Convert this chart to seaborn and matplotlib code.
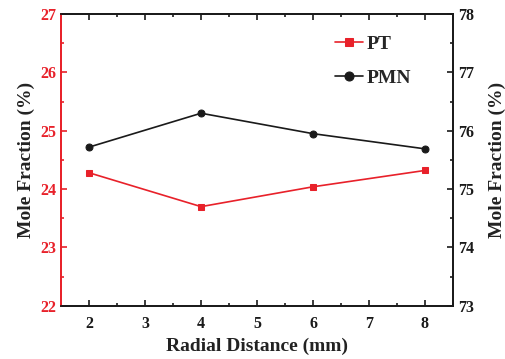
import matplotlib
matplotlib.use("Agg")
import matplotlib.pyplot as plt
import seaborn as sns
import pandas as pd
from matplotlib.ticker import MultipleLocator

distance = [2, 4, 6, 8]
pt_values = [24.28, 23.70, 24.04, 24.32]
pmn_values = [75.72, 76.30, 75.95, 75.69]

sns.set_theme(style="ticks")
plt.rcParams['font.family'] = ['Liberation Serif', 'DejaVu Serif']
plt.rcParams['font.weight'] = 'bold'

red = '#e8212a'
black = '#1a1a1a'

df = pd.DataFrame({'d': distance, 'PT': pt_values, 'PMN': pmn_values})

fig = plt.figure(figsize=(5.05, 3.59), dpi=100)
ax = fig.add_axes([0.121, 0.148, 0.776, 0.813])
ax2 = ax.twinx()

sns.lineplot(data=df, x='d', y='PT', ax=ax, color=red, marker='s', markersize=4.8,
             markeredgecolor=red, linewidth=1.2, label='PT', legend=False)
sns.lineplot(data=df, x='d', y='PMN', ax=ax2, color=black, marker='o', markersize=5,
             markeredgecolor=black, linewidth=1.2, label='PMN', legend=False)

ax.set_xlim(1.5, 8.5)
ax.set_ylim(22, 27)
ax2.set_ylim(73, 78)
ax.xaxis.set_major_locator(MultipleLocator(1))
ax.xaxis.set_minor_locator(MultipleLocator(0.5))
ax.yaxis.set_major_locator(MultipleLocator(1))
ax.yaxis.set_minor_locator(MultipleLocator(0.5))
ax2.yaxis.set_major_locator(MultipleLocator(1))
ax2.yaxis.set_minor_locator(MultipleLocator(0.5))

ax.tick_params(axis='x', which='both', direction='in', top=True, colors=black, labelsize=11.5, width=1.2, pad=7.5)
ax.tick_params(axis='x', which='major', length=4)
ax.tick_params(axis='x', which='minor', length=2.5)
ax.tick_params(axis='y', which='both', direction='in', colors=red, labelsize=11.5, width=1.2)
ax.tick_params(axis='y', which='major', length=4)
ax.tick_params(axis='y', which='minor', length=2.5)
ax2.tick_params(axis='y', which='both', direction='in', colors=black, labelsize=11.5, width=1.2)
ax2.tick_params(axis='y', which='major', length=4)
ax2.tick_params(axis='y', which='minor', length=2.5)

for lab in ax.get_xticklabels() + ax.get_yticklabels() + ax2.get_yticklabels():
    lab.set_fontweight('bold')

for s in ['top', 'bottom', 'right']:
    ax.spines[s].set_color(black)
    ax.spines[s].set_linewidth(1.3)
    ax2.spines[s].set_color(black)
    ax2.spines[s].set_linewidth(1.3)
ax.spines['left'].set_color(red)
ax.spines['left'].set_linewidth(1.3)
ax2.spines['left'].set_color(red)
ax2.spines['left'].set_linewidth(1.3)

ax.set_xlabel('Radial Distance (mm)', fontsize=14, fontweight='bold', color='#222222', labelpad=4)
ax.set_ylabel('Mole Fraction (%)', fontsize=14, fontweight='bold', color='#222222', labelpad=4)
ax2.set_ylabel('Mole Fraction (%)', fontsize=14, fontweight='bold', color='#222222', labelpad=11)

h1, l1 = ax.get_legend_handles_labels()
h2, l2 = ax2.get_legend_handles_labels()
leg = ax2.legend(h1 + h2, l1 + l2, loc='upper left', bbox_to_anchor=(0.654, 0.988),
                 frameon=False, prop={'weight': 'bold', 'size': 14}, labelspacing=0.85,
                 handlelength=1.43, handletextpad=0.2, markerscale=1.3)

fig.savefig('out.png', dpi=100)
